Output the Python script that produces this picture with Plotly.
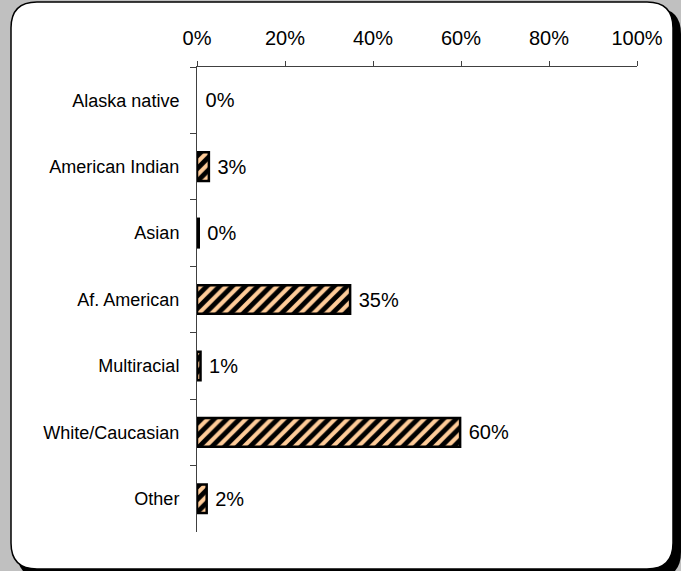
import plotly.graph_objects as go

categories = ["Alaska native", "American Indian", "Asian", "Af. American",
              "Multiracial", "White/Caucasian", "Other"]
values = [0.0, 2.7, 0.4, 34.8, 0.8, 59.8, 2.2]
labels = [f" {round(v):.0f}%" for v in values]
x_ticks = [0, 20, 40, 60, 80, 100]
x_tick_text = [f"{t}%" for t in x_ticks]

W, H = 681, 571
L, R, T, B = 197, 44, 67, 39
PW, PH = W - L - R, H - T - B


def px(x):
    return (x - L) / PW


def py(y):
    return (T + PH - y) / PH


def rrect(x0, y0, x1, y1, r):
    pts = [
        f"M {px(x0 + r)} {py(y0)}",
        f"L {px(x1 - r)} {py(y0)}",
        f"Q {px(x1)} {py(y0)} {px(x1)} {py(y0 + r)}",
        f"L {px(x1)} {py(y1 - r)}",
        f"Q {px(x1)} {py(y1)} {px(x1 - r)} {py(y1)}",
        f"L {px(x0 + r)} {py(y1)}",
        f"Q {px(x0)} {py(y1)} {px(x0)} {py(y1 - r)}",
        f"L {px(x0)} {py(y0 + r)}",
        f"Q {px(x0)} {py(y0)} {px(x0 + r)} {py(y0)}",
        "Z",
    ]
    return " ".join(pts)


line_widths = [0 if v == 0 else 2.5 for v in values]

fig = go.Figure(
    go.Bar(
        y=categories,
        x=values,
        orientation="h",
        text=labels,
        textposition="outside",
        cliponaxis=False,
        constraintext="none",
        textfont=dict(family="Arial, Liberation Sans, sans-serif", size=20, color="black"),
        marker=dict(
            color="#FFCC99",
            line=dict(color="black", width=line_widths),
            pattern=dict(shape="/", bgcolor="#FFCC99", fgcolor="black", fgopacity=1,
                         size=9, solidity=0.55),
        ),
        hoverinfo="skip",
    )
)

fig.update_layout(
    width=W,
    height=H,
    margin=dict(l=L, r=R, t=T, b=B, pad=0),
    paper_bgcolor="#C0C0C0",
    plot_bgcolor="rgba(0,0,0,0)",
    bargap=0.57,
    showlegend=False,
    font=dict(family="Arial, Liberation Sans, sans-serif", color="black"),
    shapes=[
        dict(type="path", xref="paper", yref="paper", layer="below",
             path=rrect(17, 8, 681, 578, 26), fillcolor="black", line=dict(width=0)),
        dict(type="path", xref="paper", yref="paper", layer="below",
             path=rrect(11, 2, 673, 569, 26), fillcolor="white",
             line=dict(color="black", width=1.5)),
    ],
)

fig.update_xaxes(
    side="top",
    range=[0, 100],
    tickvals=x_ticks,
    ticktext=x_tick_text,
    ticks="outside",
    ticklen=5,
    tickcolor="#404040",
    showline=True,
    linecolor="#404040",
    linewidth=1,
    showgrid=False,
    zeroline=False,
    tickfont=dict(size=20, color="black"),
    ticklabelstandoff=8,
    fixedrange=True,
)

fig.update_yaxes(
    autorange="reversed",
    ticks="outside",
    tickson="boundaries",
    ticklen=6,
    tickcolor="#404040",
    showline=True,
    linecolor="#404040",
    linewidth=1,
    showgrid=False,
    zeroline=False,
    tickfont=dict(size=18, color="black"),
    ticklabelstandoff=13,
    fixedrange=True,
)

fig.write_html(
    "out.html",
    config={"displayModeBar": False},
    post_script="document.body.style.margin='0';document.body.style.overflow='hidden';",
)
